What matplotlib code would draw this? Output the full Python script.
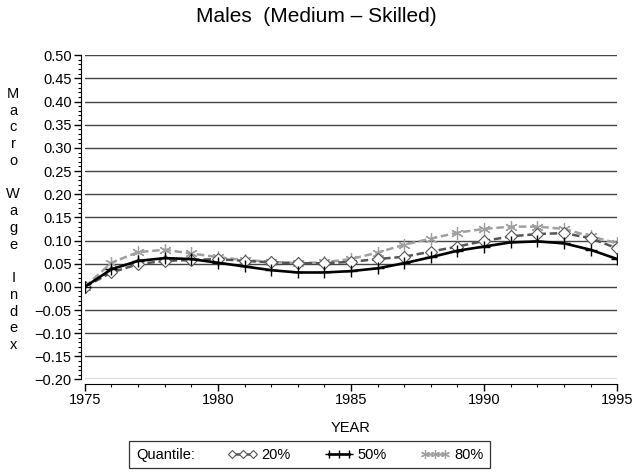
import matplotlib
matplotlib.use("Agg")
from matplotlib import pyplot as plt
from matplotlib.ticker import MultipleLocator, FuncFormatter
import numpy as np

plt.rcParams['font.family'] = ['Liberation Sans', 'DejaVu Sans']

years = np.arange(1975, 1996)
q20 = [0.000, 0.031, 0.049, 0.056, 0.058, 0.060, 0.056, 0.053, 0.051, 0.051,
       0.054, 0.060, 0.065, 0.076, 0.087, 0.099, 0.109, 0.114, 0.116, 0.105, 0.083]
q50 = [0.000, 0.038, 0.056, 0.062, 0.060, 0.052, 0.044, 0.036, 0.031, 0.031,
       0.034, 0.040, 0.051, 0.064, 0.078, 0.087, 0.096, 0.098, 0.094, 0.080, 0.060]
q80 = [0.000, 0.052, 0.075, 0.080, 0.072, 0.064, 0.058, 0.054, 0.051, 0.053,
       0.060, 0.074, 0.091, 0.104, 0.117, 0.125, 0.130, 0.130, 0.125, 0.109, 0.094]
labels = ['20%', '50%', '80%']

fig = plt.figure(figsize=(6.33, 4.72), dpi=100)
ax = fig.add_axes([0.134, 0.196, 0.841, 0.687])

l1, = ax.plot(years, q20, color='#555555', ls=(0, (3, 1.5)), lw=1.8,
              marker='D', ms=6, mfc='white', mec='#555555', mew=0.8, zorder=4)
l2, = ax.plot(years, q50, color='black', lw=1.9,
              marker='+', ms=9, mew=1.0, zorder=5)
l3, = ax.plot(years, q80, color='#a0a0a0', ls=(0, (3, 1.5)), lw=1.8,
              marker=(6, 2, 0), ms=9, mew=0.9, zorder=3)

ax.set_xlim(1975, 1995)
ax.set_ylim(-0.20, 0.50)
ax.xaxis.set_major_locator(MultipleLocator(5))
ax.xaxis.set_minor_locator(MultipleLocator(1))
ax.yaxis.set_major_locator(MultipleLocator(0.05))
ax.yaxis.set_minor_locator(MultipleLocator(0.01))
ax.yaxis.set_major_formatter(FuncFormatter(lambda v, p: f"{v:.2f}".replace('-', '\u2212')))

ax.grid(axis='y', which='major', color='#444444', lw=1.0)
ax.spines['top'].set_visible(False)
ax.spines['right'].set_visible(False)
ax.spines['left'].set_position(('outward', 3))
ax.spines['bottom'].set_position(('outward', 3))
ax.tick_params(which='major', direction='out', length=5, labelsize=10.5, width=1)
ax.tick_params(which='minor', direction='out', length=2.5, width=0.8)
ax.tick_params(axis='x', which='major', pad=2)
ax.tick_params(axis='y', which='major', pad=1.5)

ax.set_xlabel('YEAR', fontsize=10.5, labelpad=10)
fig.text(0.021, 0.535, '\n'.join('Macro Wage Index'), ha='center', va='center',
         fontsize=10.5, linespacing=1.25)
fig.suptitle('Males  (Medium \u2013 Skilled)', fontsize=15, y=0.985)

leg = fig.legend([l1, l2, l3], labels, loc='lower center', bbox_to_anchor=(0.489, 0.008),
                 ncol=3, numpoints=3, handlelength=2.0, handletextpad=0.3,
                 columnspacing=3.5, fontsize=10.5, title='Quantile:',
                 title_fontsize=10.5, frameon=True, fancybox=False,
                 edgecolor='black', borderpad=0.45, borderaxespad=0,
                 markerscale=0.7)
leg.get_frame().set_linewidth(0.9)
# put the title to the left of the entries
box = leg.get_children()[0]
title = box.get_children()[0]
hpack = box.get_children()[1]
box._children = [hpack]
hpack._children = [title] + hpack.get_children()
hpack.sep = 24

fig.savefig('out.png', dpi=100)
